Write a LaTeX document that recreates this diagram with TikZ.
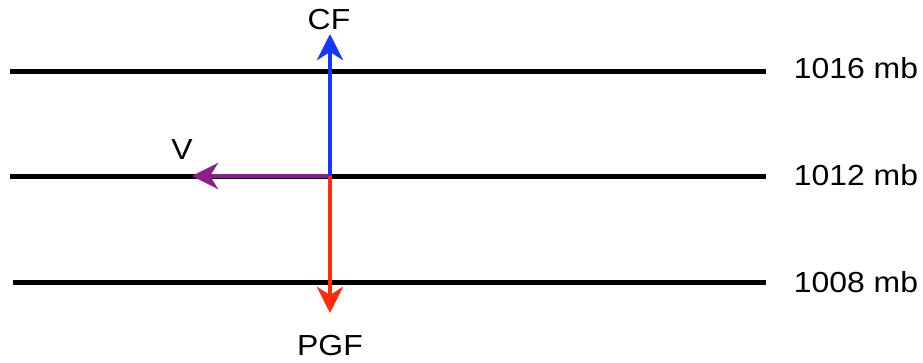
\documentclass[tikz,border=0pt]{standalone}
\usepackage{fontspec}
\setmainfont{Liberation Sans}
\newfontfamily\labelfont[FakeStretch=1.1]{Liberation Sans}
\usetikzlibrary{arrows.meta}

\definecolor{cfblue}{RGB}{20,55,255}
\definecolor{pgfred}{RGB}{255,45,10}
\definecolor{vpurple}{RGB}{140,30,140}

\begin{document}
\begin{tikzpicture}[x=1pt,y=-1pt,
  isobar/.style={line width=5pt,black},
  force/.style={line width=4.5pt,-{Stealth[length=26pt,width=26pt,inset=8pt]}},
  lbl/.style={inner sep=0pt,font=\labelfont\fontsize{29}{34}\selectfont}]
  \useasboundingbox (0,0) rectangle (923,362);

  % isobar end points
  \coordinate (a1) at (10,71);   \coordinate (a2) at (766,71);
  \coordinate (b1) at (10,176);  \coordinate (b2) at (766,176);
  \coordinate (c1) at (13,282);  \coordinate (c2) at (766,282);

  \draw[isobar] (a1) -- (a2);
  \draw[isobar] (b1) -- (b2);
  \draw[isobar] (c1) -- (c2);

  % pressure labels
  \node[lbl] (p1016) at (856,68) {1016 mb};
  \node[lbl] (p1012) at (856,175) {1012 mb};
  \node[lbl] (p1008) at (856,282) {1008 mb};

  % force balance at the parcel
  \coordinate (o) at (330,176);
  \coordinate (vtip) at (192,176);
  \coordinate (cftip) at (330,34);
  \coordinate (pgftip) at (330,313);

  \draw[force,vpurple] (o) -- (vtip);
  \draw[force,cfblue] (o) -- (cftip);
  \draw[force,pgfred] (o) -- (pgftip);

  \node[lbl] (cf) at (329,20) {CF};
  \node[lbl] (v) at (182,150) {V};
  \node[lbl] (pgf) at (330,346) {PGF};
\end{tikzpicture}
\end{document}
